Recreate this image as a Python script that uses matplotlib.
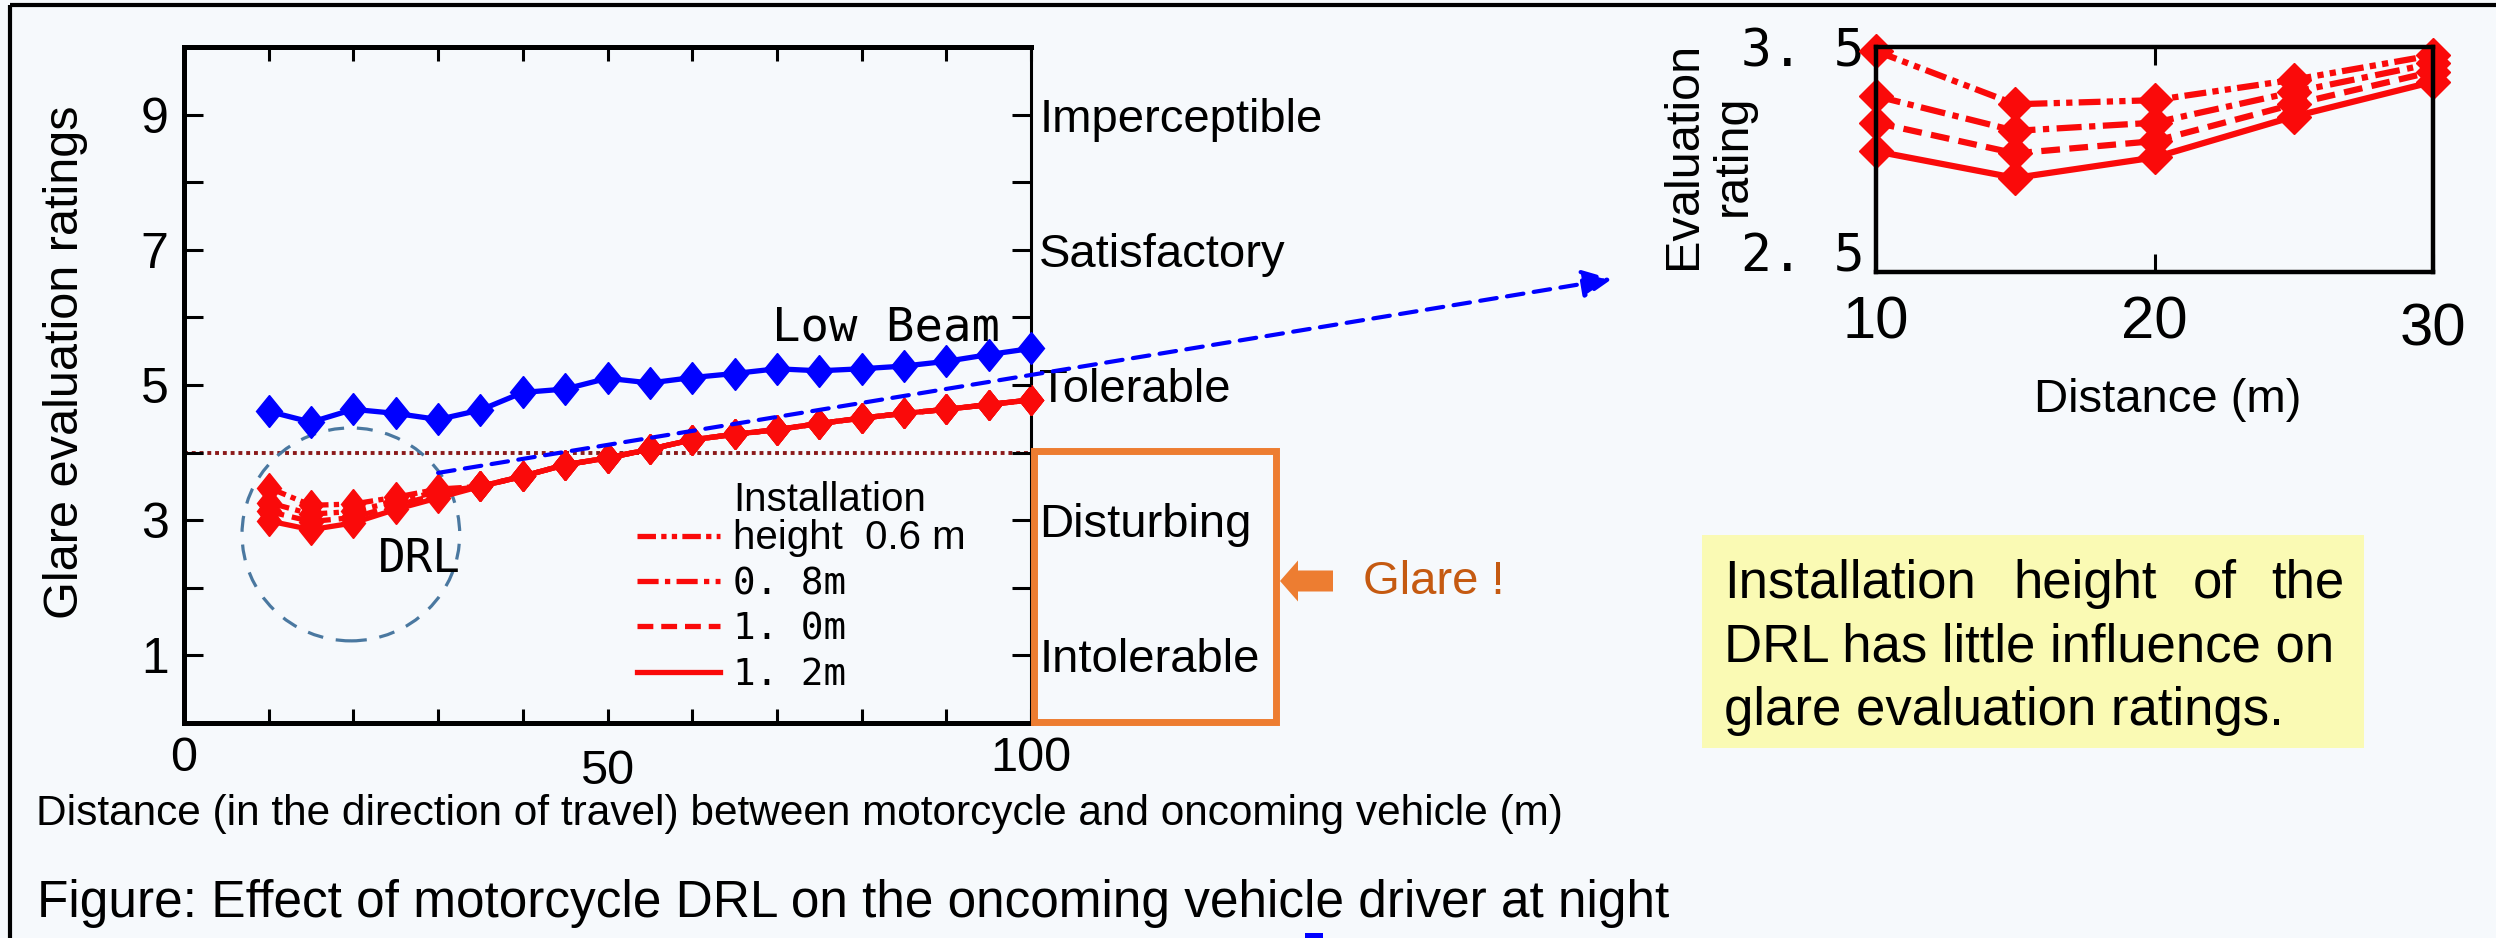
import matplotlib
matplotlib.use("Agg")
import matplotlib.pyplot as plt
from matplotlib.lines import Line2D
from matplotlib.markers import MarkerStyle
from matplotlib.patches import Rectangle, Ellipse, FancyArrow, ConnectionPatch
from matplotlib.transforms import Affine2D

plt.rcParams['font.family'] = ['Liberation Sans', 'DejaVu Sans']

# --- data ---
distance = [10, 15, 20, 25, 30, 35, 40, 45, 50, 55, 60, 65, 70, 75, 80, 85, 90, 95, 100]
low_beam = [4.61, 4.45, 4.64, 4.58, 4.49, 4.63, 4.89, 4.94, 5.10, 5.03, 5.11, 5.17, 5.24, 5.21,
            5.24, 5.28, 5.35, 5.45, 5.54]

# DRL, 10-30 m
near_distance = [10, 15, 20, 25, 30]
drl_06 = [3.48, 3.22, 3.24, 3.34, 3.46]
drl_08 = [3.26, 3.09, 3.13, 3.28, 3.42]
drl_10 = [3.13, 2.98, 3.04, 3.22, 3.38]
drl_12 = [2.99, 2.86, 2.96, 3.16, 3.33]
# DRL, 35-100 m: the four heights overlap
drl_far = [3.50, 3.65, 3.82, 3.92, 4.05, 4.19, 4.27, 4.34, 4.43, 4.51, 4.58, 4.64, 4.71, 4.78]

drl_series = [drl_06, drl_08, drl_10, drl_12]
legend_labels = ['height  0.6 m', '0. 8m', '1. 0m', '1. 2m']
glare_limit = 4.0

rating_ticks = [1, 2, 3, 4, 5, 6, 7, 8, 9]
rating_labels = ['1', '', '3', '', '5', '', '7', '', '9']
rating_words = ['Intolerable', '', 'Disturbing', '', 'Tolerable', '', 'Satisfactory', '',
                'Imperceptible']
x_ticks = [0, 10, 20, 30, 40, 50, 60, 70, 80, 90, 100]
x_labels = ['0', '', '', '', '', '50', '', '', '', '', '100']
inset_x_ticks = [10, 20, 30]
inset_y_ticks = [2.5, 3.5]
inset_y_labels = ['2. 5', '3. 5']

note_words = ['Installation', 'height', 'of', 'the']
note_lines = ['DRL has little influence on', 'glare evaluation ratings.']

# --- layout ---
W, H = 2496, 938
BG = '#f6f9fc'
RED = '#fa0a0a'
BLUE = '#0000ff'
ORANGE = '#ed7d31'
MONO = 'DejaVu Sans Mono'
styles = [(0, (3.5, 1, 1, 1, 1, 1)), (0, (4, 1.2, 1, 1.2)), (0, (3, 1.5)), '-']


def fbox(l, t, r, b):
    return [l / W, 1 - b / H, (r - l) / W, (b - t) / H]


fig = plt.figure(figsize=(W / 100, H / 100), dpi=100, facecolor=BG)

# main chart
ax = fig.add_axes(fbox(184, 47, 1031, 723))
ax.set_facecolor('none')
ax.set_xlim(0, 100)
ax.set_ylim(0, 10)

tall_d = MarkerStyle('D', transform=Affine2D().scale(0.8, 1.0))
ax.axhline(glare_limit, color='#8b1a1a', lw=2.8, ls=(0, (1, 1)), zorder=1)
ax.plot(distance, low_beam, color=BLUE, lw=3.8, marker=tall_d, ms=16, clip_on=False, zorder=3)
for vals, ls in zip(drl_series, styles):
    ax.plot(distance, vals + drl_far, color=RED, lw=3.8, ls=ls, marker=tall_d, ms=15,
            clip_on=False, zorder=4)

for side in ['left', 'top', 'bottom']:
    ax.spines[side].set_linewidth(3.6)
ax.spines['right'].set_linewidth(2.2)

ax.set_xticks(x_ticks)
ax.set_xticklabels(x_labels, fontsize=35)
ax.set_yticks(rating_ticks)
ax.set_yticklabels(rating_labels, fontsize=36)
ax.tick_params(axis='x', direction='in', length=10, width=2.2, top=True, pad=9)
ax.tick_params(axis='y', direction='in', length=14, width=2.2, right=False, pad=11)
ax.get_xticklabels()[5].set_y(-0.02)

ax.set_ylabel('Glare evaluation ratings', fontsize=35)
ax.yaxis.set_label_coords(-0.113, 0.534)
ax.set_xlabel('Distance (in the direction of travel) between motorcycle and oncoming vehicle (m)',
              fontsize=30.5)
ax.xaxis.label.set_ha('left')
ax.xaxis.set_label_coords(-0.175, -0.105)

ax2 = ax.twinx()
ax2.set_ylim(0, 10)
ax2.set_yticks(rating_ticks)
ax2.set_yticklabels(rating_words, fontsize=34)
ax2.tick_params(axis='y', direction='in', length=14, width=2.2, pad=6)
for s in ax2.spines.values():
    s.set_visible(False)

ax.text(96.3, 5.66, 'Low Beam', ha='right', va='baseline', family=MONO, fontsize=34)
ax.add_patch(Ellipse((19.7, 2.79), 25.7, 3.15, fill=False, ec='#4a78a0', lw=2.3,
                     ls=(0, (5, 4)), clip_on=False, zorder=2))
ax.text(27.8, 2.24, 'DRL', ha='center', va='baseline', family=MONO, fontsize=33)

handles = [Line2D([], [], color=RED, lw=3.8, ls=ls) for ls in styles]
leg = ax.legend(handles, legend_labels, loc='upper left', bbox_to_anchor=(0.535, 0.302),
                frameon=False, fontsize=27, handlelength=2.2, handletextpad=0.35,
                labelspacing=0.25, borderpad=0, borderaxespad=0)
for i, t in enumerate(leg.get_texts()):
    if i == 0:
        t.set_fontsize(29)
    else:
        t.set_family(MONO)
        t.set_fontsize(27)
ax.text(64.8, 3.3, 'Installation', ha='left', va='center', fontsize=29)

# inset: 10-30 m enlarged
ax_in = fig.add_axes(fbox(1876, 47, 2433, 272))
ax_in.set_facecolor('none')
for vals, ls in zip(drl_series, styles):
    ax_in.plot(near_distance, vals, color=RED, lw=4.5, ls=ls, marker='D', ms=17, clip_on=False)
ax_in.set_xlim(10, 30)
ax_in.set_ylim(2.4, 3.5)
for s in ax_in.spines.values():
    s.set_linewidth(3.2)
ax_in.set_xticks(inset_x_ticks)
ax_in.set_xticklabels([str(v) for v in inset_x_ticks], fontsize=43)
ax_in.set_yticks(inset_y_ticks)
ax_in.set_yticklabels(inset_y_labels, family=MONO, fontsize=37)
ax_in.tick_params(axis='x', direction='in', length=13, width=2.2, top=True, pad=17)
ax_in.tick_params(axis='y', length=0, pad=8)
ax_in.get_xticklabels()[2].set_y(-0.03)
ax_in.set_ylabel('Evaluation\nrating', fontsize=35, linespacing=1.15)
ax_in.yaxis.set_label_coords(-0.215, 0.52)
ax_in.set_xlabel('Distance (m)', fontsize=34)
ax_in.xaxis.set_label_coords(0.524, -0.47)

# overlay in pixel coordinates for the annotations
ov = fig.add_axes([0, 0, 1, 1])
ov.set_xlim(0, W)
ov.set_ylim(H, 0)
ov.axis('off')
ov.patch.set_visible(False)

ov.add_patch(Rectangle((9.5, 5), 2600, 1000, fill=False, ec='black', lw=3))
ov.add_patch(Rectangle((1034, 451), 242, 271, fill=False, ec=ORANGE, lw=5))
ov.add_patch(FancyArrow(1333, 581, -53, 0, width=21, head_width=41, head_length=18,
                        length_includes_head=True, color=ORANGE, lw=0))
ov.text(1363, 582, 'Glare !', color='#c55a11', fontsize=34, va='center', ha='left')

# yellow note, first line justified
ov.add_patch(Rectangle((1702, 535), 662, 213, fc='#fafab4', ec='none'))
word_x = [1724, 2013, 2193, 2344]
word_ha = ['left', 'left', 'left', 'right']
for word, wx, ha in zip(note_words, word_x, word_ha):
    ov.text(wx, 598, word, fontsize=38, va='baseline', ha=ha)
for i, line in enumerate(note_lines):
    ov.text(1724, 598 + 63.5 * (i + 1), line, fontsize=38, va='baseline', ha='left')

ov.text(37, 917, 'Figure: Effect of motorcycle DRL on the oncoming vehicle driver at night',
        fontsize=37, va='baseline', ha='left')
ov.add_patch(Rectangle((1305, 933), 18, 8, fc=BLUE, ec='none'))

con = ConnectionPatch(xyA=(30, 3.7), coordsA=ax.transData, xyB=(1612, 279),
                      coordsB=ov.transData,
                      arrowstyle='-|>,head_length=0.9,head_width=0.43', mutation_scale=20,
                      color=BLUE, lw=3, ls=(0, (4, 2.5)), shrinkA=0, shrinkB=0, zorder=10)
ov.add_artist(con)

fig.savefig('out.png', dpi=100, facecolor=BG)
